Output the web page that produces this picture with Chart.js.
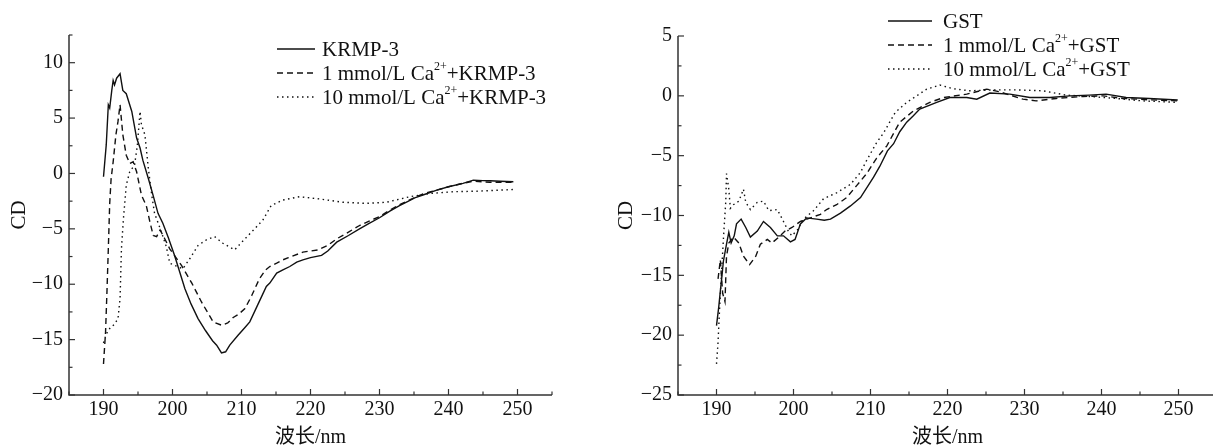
<!DOCTYPE html>
<html>
<head>
<meta charset="utf-8">
<script src="https://cdn.jsdelivr.net/npm/chart.js@4.4.1/dist/chart.umd.min.js"></script>
<style>
  html, body { margin: 0; padding: 0; background: #fff; overflow: hidden; }
  #wrap { position: relative; width: 1213px; height: 446px; overflow: hidden; }
  #left { position: absolute; left: 0; top: 0; }
  #right { position: absolute; left: 600px; top: 0; }
</style>
</head>
<body>
<div id="wrap">
  <canvas id="left" width="600" height="446"></canvas>
  <canvas id="right" width="620" height="446"></canvas>
</div>
<script>
// KRMP-3 panel (left)
const krmpWl = [190.0, 190.4, 190.7, 190.9, 191.2, 191.4, 191.6, 191.9, 192.4, 192.8, 193.3, 194.1, 194.8, 195.3, 195.7, 196.5, 197.2, 197.9, 198.6, 199.4, 200.3, 201.0, 201.8, 202.7, 203.7, 204.8, 205.8, 206.4, 207.1, 207.7, 208.3, 209.5, 210.5, 211.2, 212.4, 213.6, 214.1, 215.1, 216.0, 217.0, 218.0, 218.9, 220.0, 221.6, 222.5, 223.8, 225.5, 227.1, 228.5, 230.0, 231.5, 232.9, 234.2, 235.1, 236.5, 238.3, 240.0, 242.1, 243.6, 245.0, 246.0, 247.5, 249.4];
const krmpCd = [-0.3, 2.6, 6.2, 5.9, 7.5, 8.4, 8.0, 8.6, 9.0, 7.5, 7.2, 5.6, 3.2, 2.3, 1.2, -0.45, -2.0, -3.6, -4.5, -5.8, -7.4, -8.8, -10.4, -11.8, -13.1, -14.2, -15.1, -15.5, -16.2, -16.1, -15.5, -14.6, -13.9, -13.4, -11.8, -10.2, -9.9, -9.0, -8.7, -8.4, -8.0, -7.8, -7.6, -7.4, -7.0, -6.2, -5.6, -5.0, -4.5, -4.0, -3.4, -2.9, -2.5, -2.2, -1.9, -1.5, -1.2, -0.9, -0.6, -0.65, -0.66, -0.7, -0.75];

const krmpCa1Wl = [190.0, 190.3, 190.5, 190.7, 190.9, 191.1, 191.4, 191.8, 192.1, 192.4, 192.8, 193.3, 193.8, 194.3, 194.8, 195.5, 196.2, 196.7, 197.2, 197.7, 198.2, 198.8, 199.6, 200.4, 201.3, 202.8, 204.2, 205.9, 207.1, 208.0, 208.8, 209.6, 210.5, 211.5, 212.6, 213.5, 214.1, 215.1, 216.0, 216.8, 218.9, 221.1, 222.5, 223.8, 225.5, 227.1, 228.5, 230.0, 231.5, 233.0, 235.0, 236.5, 238.3, 240.0, 242.0, 243.6, 246.0, 249.4];
const krmpCa1Cd = [-17.2, -14.3, -10.7, -6.8, -2.7, -0.5, 1.05, 3.5, 4.7, 6.2, 3.5, 1.65, 0.9, 1.05, 0.15, -1.96, -2.9, -4.3, -5.6, -5.7, -5.1, -5.8, -6.8, -7.5, -8.3, -9.9, -11.6, -13.4, -13.7, -13.5, -13.0, -12.7, -12.2, -11.0, -9.5, -8.7, -8.4, -8.1, -7.8, -7.6, -7.1, -6.9, -6.5, -5.9, -5.3, -4.7, -4.3, -3.9, -3.3, -2.8, -2.2, -1.8, -1.5, -1.2, -0.9, -0.7, -0.8, -0.8];

const krmpCa10Wl = [190.0, 190.4, 190.9, 191.6, 192.1, 192.4, 192.6, 192.9, 193.3, 193.8, 194.5, 194.9, 195.3, 195.5, 196.0, 196.5, 197.0, 197.4, 197.7, 198.4, 199.1, 199.6, 200.3, 201.5, 202.5, 203.7, 204.9, 206.1, 207.3, 209.0, 210.5, 211.9, 213.1, 214.3, 216.0, 218.4, 221.3, 224.7, 228.1, 231.0, 234.4, 237.3, 240.7, 244.1, 249.4];
const krmpCa10Cd = [-15.3, -14.5, -14.0, -13.6, -13.1, -11.3, -6.8, -4.0, -1.05, 0.15, 0.75, 2.5, 5.6, 4.4, 3.5, 0.45, -2.0, -3.6, -4.1, -5.3, -6.6, -8.1, -8.3, -8.6, -7.7, -6.5, -6.0, -5.7, -6.3, -6.9, -5.9, -5.0, -4.2, -2.9, -2.4, -2.1, -2.3, -2.6, -2.7, -2.6, -2.1, -1.8, -1.65, -1.6, -1.45];

// GST panel (right)
const gstWl = [190.0, 190.3, 190.5, 190.7, 190.9, 191.3, 191.6, 191.9, 192.3, 192.6, 193.2, 193.8, 194.4, 195.3, 196.1, 197.0, 197.9, 198.7, 199.6, 200.2, 200.9, 201.7, 203.0, 204.0, 204.8, 206.1, 207.4, 208.7, 210.4, 211.2, 212.2, 213.0, 213.8, 214.7, 215.5, 216.4, 218.6, 220.3, 222.5, 223.8, 225.5, 228.1, 230.7, 233.3, 235.9, 238.4, 240.6, 243.2, 246.2, 249.9];
const gstCd = [-19.2, -17.6, -16.3, -15.1, -13.8, -12.4, -11.4, -12.3, -11.7, -10.7, -10.3, -11.0, -11.8, -11.3, -10.5, -11.0, -11.7, -11.7, -12.2, -12.0, -10.7, -10.2, -10.3, -10.4, -10.3, -9.8, -9.2, -8.5, -6.8, -5.9, -4.6, -4.0, -3.0, -2.2, -1.7, -1.1, -0.55, -0.14, -0.14, -0.28, 0.23, 0.14, -0.14, -0.14, 0.0, 0.06, 0.14, -0.14, -0.22, -0.35];

const gstCa1Wl = [190.2, 190.5, 190.8, 191.1, 191.3, 191.6, 192.2, 192.9, 193.5, 194.3, 195.1, 195.7, 196.6, 197.2, 198.1, 198.9, 199.8, 200.9, 202.2, 203.5, 204.3, 205.6, 206.9, 208.2, 209.5, 210.8, 211.7, 212.1, 213.8, 215.6, 217.7, 219.5, 222.5, 225.1, 226.8, 229.8, 231.5, 234.1, 237.6, 240.2, 242.8, 246.2, 249.9];
const gstCa1Cd = [-15.3, -13.7, -16.5, -17.2, -13.4, -12.3, -11.8, -12.3, -13.4, -14.1, -13.4, -12.4, -12.0, -12.3, -11.8, -11.3, -11.0, -10.5, -10.2, -9.9, -9.5, -9.1, -8.5, -7.5, -6.5, -5.2, -4.5, -4.2, -2.2, -1.25, -0.55, -0.14, 0.14, 0.56, 0.33, -0.28, -0.42, -0.22, -0.05, 0.0, -0.22, -0.33, -0.42];

const gstCa10Wl = [190.0, 190.2, 190.4, 190.7, 190.95, 191.2, 191.3, 191.6, 191.8, 192.2, 192.9, 193.5, 193.8, 194.4, 195.3, 196.1, 196.8, 197.9, 198.7, 199.4, 199.8, 200.5, 201.3, 202.6, 203.9, 205.6, 207.4, 208.7, 209.5, 210.8, 211.7, 213.2, 214.7, 216.0, 217.3, 219.0, 220.7, 222.9, 225.9, 228.9, 232.4, 235.4, 238.4, 241.9, 245.3, 249.9];
const gstCa10Cd = [-22.4, -20.6, -17.8, -14.2, -11.4, -8.9, -6.5, -7.8, -9.4, -9.1, -8.8, -7.8, -8.9, -9.5, -8.9, -8.8, -9.6, -9.5, -10.5, -11.4, -11.7, -11.2, -10.3, -9.6, -8.6, -8.1, -7.4, -6.4, -5.4, -3.9, -3.1, -1.4, -0.55, 0.0, 0.56, 0.9, 0.6, 0.42, 0.5, 0.5, 0.42, 0.06, -0.05, -0.22, -0.42, -0.55];

// legend text, "^...^" marks the superscript part
const leftLabels = ['KRMP-3', '1 mmol/L Ca^2+^+KRMP-3', '10 mmol/L Ca^2+^+KRMP-3'];
const rightLabels = ['GST', '1 mmol/L Ca^2+^+GST', '10 mmol/L Ca^2+^+GST'];

const wavelengthRange = [185, 255];
const leftCdRange = [-20, 12.5];
const rightCdRange = [-25, 5];

const ink = '#111';
const serif = "'Liberation Serif', 'Times New Roman', serif";
const styles = [
    { borderDash: [] },
    { borderDash: [6, 4] },
    { borderDash: [1.5, 3.5] },
];

const toPoints = (wl, cd) => wl.map((w, i) => ({ x: w, y: cd[i] }));
const minus = (v) => String(v).replace('-', '\u2212');

// axis lines with inward ticks, drawn from the scales' own ticks
const axisDecor = {
    id: 'axisDecor',
    afterDatasetsDraw(chart) {
        const { ctx, chartArea: a, scales: { x, y } } = chart;
        ctx.save();
        ctx.strokeStyle = '#333';
        ctx.lineWidth = 1.5;
        ctx.beginPath();
        ctx.moveTo(a.left, a.top);
        ctx.lineTo(a.left, a.bottom);
        ctx.lineTo(a.right, a.bottom);
        ctx.stroke();
        ctx.lineWidth = 1.2;
        x.ticks.forEach((t) => {
            const px = x.getPixelForValue(t.value);
            const len = t.value % 10 === 0 ? 6 : 3.5;
            ctx.beginPath();
            ctx.moveTo(px, a.bottom);
            ctx.lineTo(px, a.bottom - len);
            ctx.stroke();
        });
        y.ticks.forEach((t) => {
            const py = y.getPixelForValue(t.value);
            const len = t.value % 5 === 0 ? 6 : 3.5;
            ctx.beginPath();
            ctx.moveTo(a.left, py);
            ctx.lineTo(a.left + len, py);
            ctx.stroke();
        });
        ctx.restore();
    },
};

// legend with superscript "2+"
const legendDecor = {
    id: 'legendDecor',
    afterDraw(chart, args, opts) {
        const ctx = chart.ctx;
        ctx.save();
        chart.data.datasets.forEach((ds, i) => {
            const yy = opts.y + i * opts.gap;
            ctx.strokeStyle = ds.borderColor;
            ctx.lineWidth = ds.borderWidth;
            ctx.setLineDash(ds.borderDash);
            ctx.beginPath();
            ctx.moveTo(opts.x, yy);
            ctx.lineTo(opts.x + opts.len, yy);
            ctx.stroke();
            ctx.setLineDash([]);
            let tx = opts.x + opts.len + opts.textGap;
            ctx.fillStyle = ink;
            ctx.textBaseline = 'middle';
            opts.labels[i].split('^').forEach((part, k) => {
                const sup = k % 2 === 1;
                ctx.font = (sup ? '12px ' : '21px ') + serif;
                ctx.fillText(part, tx, sup ? yy - 6 : yy + 1);
                tx += ctx.measureText(part).width;
            });
        });
        ctx.restore();
    },
};

const makeChart = (id, series, labels, cdRange, box) => {
    const ctx = document.getElementById(id).getContext('2d');
    return new Chart(ctx, {
        type: 'line',
        data: {
            datasets: series.map((s, i) => ({
                label: labels[i].replace(/\^/g, ''),
                data: toPoints(s[0], s[1]),
                borderColor: ink,
                borderWidth: 1.4,
                borderDash: styles[i].borderDash,
                pointRadius: 0,
                tension: 0,
                fill: false,
            })),
        },
        options: {
            responsive: false,
            animation: false,
            layout: { padding: { left: 0, right: box.right, top: box.top, bottom: 0 } },
            plugins: {
                legend: { display: false },
                tooltip: { enabled: false },
                legendDecor: { labels, x: box.legendX, y: box.legendY, gap: 24, len: box.legendLen, textGap: box.textGap },
            },
            scales: {
                x: {
                    type: 'linear',
                    min: wavelengthRange[0],
                    max: wavelengthRange[1],
                    grid: { display: false, drawTicks: false },
                    border: { display: false },
                    afterFit: (scale) => { scale.height = 51; },
                    ticks: {
                        stepSize: 5,
                        autoSkip: false,
                        maxRotation: 0,
                        padding: 3,
                        color: ink,
                        font: { family: serif, size: 20 },
                        callback: (v) => (v % 10 === 0 ? String(v) : ''),
                    },
                    title: {
                        display: true,
                        text: '波长/nm',
                        color: ink,
                        font: { family: "'Liberation Serif', 'Noto Sans CJK SC', serif", size: 20, lineHeight: 1 },
                        padding: { top: 0, bottom: -2 },
                    },
                },
                y: {
                    min: cdRange[0],
                    max: cdRange[1],
                    grid: { display: false, drawTicks: false },
                    border: { display: false },
                    afterFit: (scale) => { scale.width = box.left; },
                    ticks: {
                        stepSize: 2.5,
                        autoSkip: false,
                        padding: 6,
                        color: ink,
                        font: { family: serif, size: 20 },
                        callback: (v) => (v % 5 === 0 ? minus(v) : ''),
                    },
                    title: {
                        display: true,
                        text: 'CD',
                        color: ink,
                        font: { family: serif, size: 21, lineHeight: 1 },
                        padding: { top: box.titlePad, bottom: 0 },
                    },
                },
            },
        },
        plugins: [axisDecor, legendDecor],
    });
};

makeChart('left',
    [[krmpWl, krmpCd], [krmpCa1Wl, krmpCa1Cd], [krmpCa10Wl, krmpCa10Cd]],
    leftLabels, leftCdRange,
    { left: 69, right: 48, top: 35, titlePad: 8.5, legendX: 277, legendY: 49, legendLen: 38, textGap: 7 });

makeChart('right',
    [[gstWl, gstCd], [gstCa1Wl, gstCa1Cd], [gstCa10Wl, gstCa10Cd]],
    rightLabels, rightCdRange,
    { left: 78, right: 2, top: 36, titlePad: 15.5, legendX: 288, legendY: 21, legendLen: 44, textGap: 11 });
</script>
</body>
</html>
